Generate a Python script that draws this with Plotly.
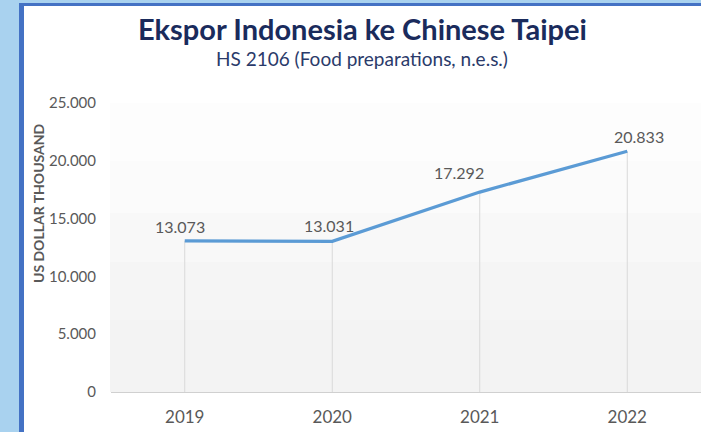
import plotly.graph_objects as go

years = ["2019", "2020", "2021", "2022"]
values = [13073, 13031, 17292, 20833]
y_ticks = [0, 5000, 10000, 15000, 20000, 25000]

title = "Ekspor Indonesia ke Chinese Taipei"
subtitle = "HS 2106 (Food preparations, n.e.s.)"
y_title = "US DOLLAR THOUSAND"

label_xshift = [-5, -3, -21, 12]
label_yshift = [14, 16, 20, 15]

W, H = 701, 432
ML, MR, MT, MB = 111, 0, 103, 40
PW, PH = W - ML - MR, H - MT - MB

def px(x):
    return (x - ML) / PW

def py(y):
    return (H - MB - y) / PH

FONT = "Lato"
GRAY = "#595959"

fig = go.Figure()

dx, dy = [], []
for c, v in zip(years, values):
    dx += [c, c, None]
    dy += [0, v, None]
fig.add_trace(go.Scatter(x=dx, y=dy, mode="lines",
                         line=dict(color="#d9d9d9", width=1),
                         hoverinfo="skip", showlegend=False))

fig.add_trace(go.Scatter(x=years, y=values, mode="lines",
                         line=dict(color="#5b9bd5", width=3.2),
                         showlegend=False))

for i, v in enumerate(values):
    fig.add_annotation(x=i, y=v, xref="x", yref="y", text=f"{v:,}".replace(",", "."),
                       showarrow=False, xshift=label_xshift[i], yshift=label_yshift[i],
                       font=dict(family=FONT, size=16, color=GRAY))

shapes = []
shapes.append(dict(type="rect", xref="paper", yref="paper", layer="below",
                   x0=px(19), x1=px(W + 5), y0=py(H + 5), y1=py(3),
                   fillcolor="#4472c4", line=dict(width=0)))
shapes.append(dict(type="rect", xref="paper", yref="paper", layer="below",
                   x0=px(24), x1=px(W + 5), y0=py(H + 5), y1=py(6),
                   fillcolor="#ffffff", line=dict(width=0)))
for y1, a in [(1.0, 0.006), (0.8, 0.008), (0.62, 0.01), (0.45, 0.01), (0.25, 0.008)]:
    shapes.append(dict(type="rect", xref="paper", yref="paper", layer="below",
                       x0=px(110), x1=1.0, y0=0, y1=y1,
                       fillcolor=f"rgba(0,0,0,{a})", line=dict(width=0)))

fig.update_layout(
    width=W, height=H,
    margin=dict(l=ML, r=MR, t=MT, b=MB, autoexpand=False),
    paper_bgcolor="#a9d2ef",
    plot_bgcolor="rgba(0,0,0,0)",
    separators=",.",
    shapes=shapes,
    font=dict(family=FONT, color=GRAY),
    xaxis=dict(type="category", range=[-0.5, 3.5], showgrid=False, automargin=False,
               showline=True, linecolor="#d0d0d0", linewidth=1,
               ticks="", ticklabelstandoff=10,
               tickfont=dict(family=FONT, size=17, color=GRAY),
               fixedrange=True),
    yaxis=dict(range=[0, 25000], tickvals=y_ticks, tickformat=",d", automargin=False,
               showgrid=False, zeroline=False, showline=False,
               ticks="", ticklabelstandoff=14,
               tickfont=dict(family=FONT, size=15, color=GRAY),
               fixedrange=True),
)

fig.add_annotation(xref="paper", yref="paper", x=px(38), y=py(203),
                   xanchor="center", yanchor="middle", textangle=-90,
                   text=f"<b>{y_title}</b>", showarrow=False,
                   font=dict(family=FONT, size=14, color=GRAY))
fig.add_annotation(xref="paper", yref="paper", x=px(362), y=py(28),
                   xanchor="center", yanchor="middle",
                   text=f"<b>{title}</b>", showarrow=False,
                   font=dict(family=FONT, size=29, color="#1a2b5c"))
fig.add_annotation(xref="paper", yref="paper", x=px(362), y=py(58),
                   xanchor="center", yanchor="middle",
                   text=subtitle, showarrow=False,
                   font=dict(family=FONT, size=19, color="#2a3a6a"))

fig.write_html("out.html", config={"displayModeBar": False},
               post_script="document.body.style.margin='0';document.body.style.padding='0';")
